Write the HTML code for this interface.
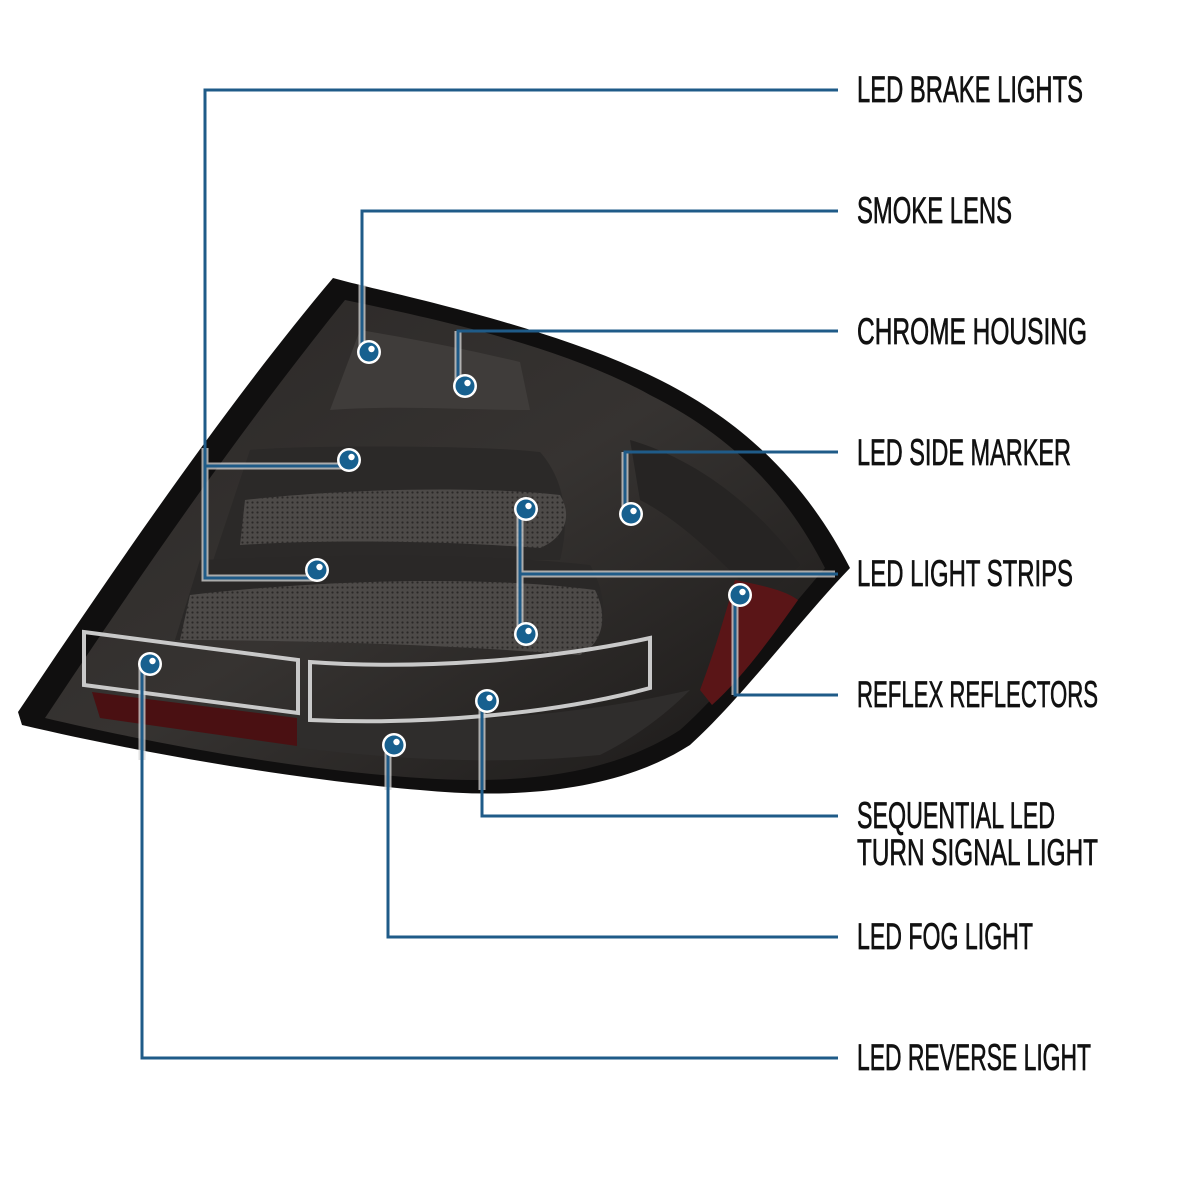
<!DOCTYPE html>
<html><head><meta charset="utf-8"><style>
html,body{margin:0;padding:0;background:#fff;width:1200px;height:1200px;overflow:hidden}
svg{display:block}
text{font-family:"Liberation Sans",sans-serif;font-size:37px;fill:#111;stroke:#111;stroke-width:0.7}
</style></head><body>
<svg width="1200" height="1200" viewBox="0 0 1200 1200" xmlns="http://www.w3.org/2000/svg">
<defs>
<linearGradient id="body" x1="0" y1="0" x2="1" y2="1">
<stop offset="0" stop-color="#2a2726"/><stop offset="0.5" stop-color="#363331"/><stop offset="1" stop-color="#1a1817"/>
</linearGradient>
<pattern id="dots" width="5" height="5" patternUnits="userSpaceOnUse">
<rect width="5" height="5" fill="#4d4a48"/><circle cx="2.5" cy="2.5" r="1.1" fill="#2a2827"/>
</pattern>
<g id="dot"><circle r="12" fill="#fff"/><circle r="9.5" fill="#17608f"/><circle cx="2.5" cy="-3" r="3.2" fill="#fff"/></g>
</defs>

<path d="M333,278 L348,282 C420,300 560,330 660,380 C760,430 815,500 850,568 C800,620 740,700 690,745 C620,790 520,800 420,790 C300,780 150,755 22,725 L18,712 C120,560 230,400 333,278 Z" fill="#100f0f"/>
<path d="M345,300 C430,318 560,345 650,395 C740,440 790,500 825,568 C780,620 725,690 680,730 C610,775 520,785 420,778 C300,770 160,745 45,718 C140,575 240,430 345,300 Z" fill="url(#body)"/>
<path d="M360,330 C420,340 470,350 520,362 L530,410 C460,410 400,405 330,410 Z" fill="#3f3c3a"/>
<path d="M250,450 C300,445 480,445 540,452 C565,480 570,520 560,560 C460,560 330,560 210,570 Z" fill="#2b2928"/>
<path d="M245,500 C330,490 470,485 560,495 C575,520 560,540 540,548 C430,540 320,540 240,545 Z" fill="url(#dots)"/>
<path d="M200,560 C320,555 470,552 590,565 C610,600 605,630 590,650 C450,640 300,640 175,640 Z" fill="#2a2827"/>
<path d="M190,595 C320,580 480,575 595,590 C610,620 600,645 580,655 C450,645 300,640 180,640 Z" fill="url(#dots)"/>
<path d="M630,440 C700,460 760,510 800,565 L760,600 C720,560 680,520 640,500 Z" fill="#262423"/>
<path d="M92,692 L297,718 L297,746 L100,718 Z" fill="#4a1012"/>
<path d="M735,580 C760,585 785,590 798,600 C770,640 740,680 712,705 L700,690 C715,650 725,615 735,580 Z" fill="#5a1517"/>
<path d="M300,720 C420,725 560,720 690,690 C660,720 630,740 600,755 C500,765 400,760 300,748 Z" fill="#2f2d2c"/>

<path d="M84,632 L298,660 L298,713 L84,685 Z" fill="none" stroke="#c9c9c9" stroke-width="4"/>
<path d="M310,662 C420,670 550,660 650,638 L650,688 C550,715 420,725 310,720 Z" fill="none" stroke="#c9c9c9" stroke-width="4"/>

<g fill="none">
<g stroke="#d8d8d8" stroke-width="7" opacity="0.75">
<path d="M205,466 L349,466 M205,448 L205,578 L317,578"/>
<path d="M362,285 L362,352"/><path d="M458,331 L458,386"/>
<path d="M625,452 L625,514"/><path d="M520,574 L835,574 M520,509 L520,634"/>
<path d="M735,590 L735,695"/><path d="M482,701 L482,790"/><path d="M388,745 L388,790"/><path d="M142,664 L142,760"/>
</g>
<g stroke="#1f5b88" stroke-width="3">
<path d="M838,90 L205,90 L205,578 L317,578"/><path d="M205,466 L349,466"/>
<path d="M838,211 L362,211 L362,352"/>
<path d="M838,331 L458,331 L458,386"/>
<path d="M838,452 L625,452 L625,514"/>
<path d="M838,574 L520,574"/><path d="M520,509 L520,634"/>
<path d="M838,695 L735,695 L735,595"/>
<path d="M838,816 L482,816 L482,701"/>
<path d="M838,937 L388,937 L388,745"/>
<path d="M838,1058 L142,1058 L142,664"/>
</g>
</g>
<use href="#dot" x="349" y="460"/>
<use href="#dot" x="317" y="570"/>
<use href="#dot" x="369" y="352"/>
<use href="#dot" x="465" y="386"/>
<use href="#dot" x="631" y="514"/>
<use href="#dot" x="526" y="509"/>
<use href="#dot" x="526" y="634"/>
<use href="#dot" x="740" y="595"/>
<use href="#dot" x="487" y="701"/>
<use href="#dot" x="394" y="745"/>
<use href="#dot" x="150" y="664"/>

<text x="857" y="102" textLength="226" lengthAdjust="spacingAndGlyphs">LED BRAKE LIGHTS</text>
<text x="857" y="223" textLength="155" lengthAdjust="spacingAndGlyphs">SMOKE LENS</text>
<text x="857" y="344" textLength="230" lengthAdjust="spacingAndGlyphs">CHROME HOUSING</text>
<text x="857" y="465" textLength="214" lengthAdjust="spacingAndGlyphs">LED SIDE MARKER</text>
<text x="857" y="586" textLength="216" lengthAdjust="spacingAndGlyphs">LED LIGHT STRIPS</text>
<text x="857" y="707" textLength="241" lengthAdjust="spacingAndGlyphs">REFLEX REFLECTORS</text>
<text x="857" y="828" textLength="198" lengthAdjust="spacingAndGlyphs">SEQUENTIAL LED</text>
<text x="857" y="865" textLength="241" lengthAdjust="spacingAndGlyphs">TURN SIGNAL LIGHT</text>
<text x="857" y="949" textLength="176" lengthAdjust="spacingAndGlyphs">LED FOG LIGHT</text>
<text x="857" y="1070" textLength="234" lengthAdjust="spacingAndGlyphs">LED REVERSE LIGHT</text>
</svg>
</body></html>
